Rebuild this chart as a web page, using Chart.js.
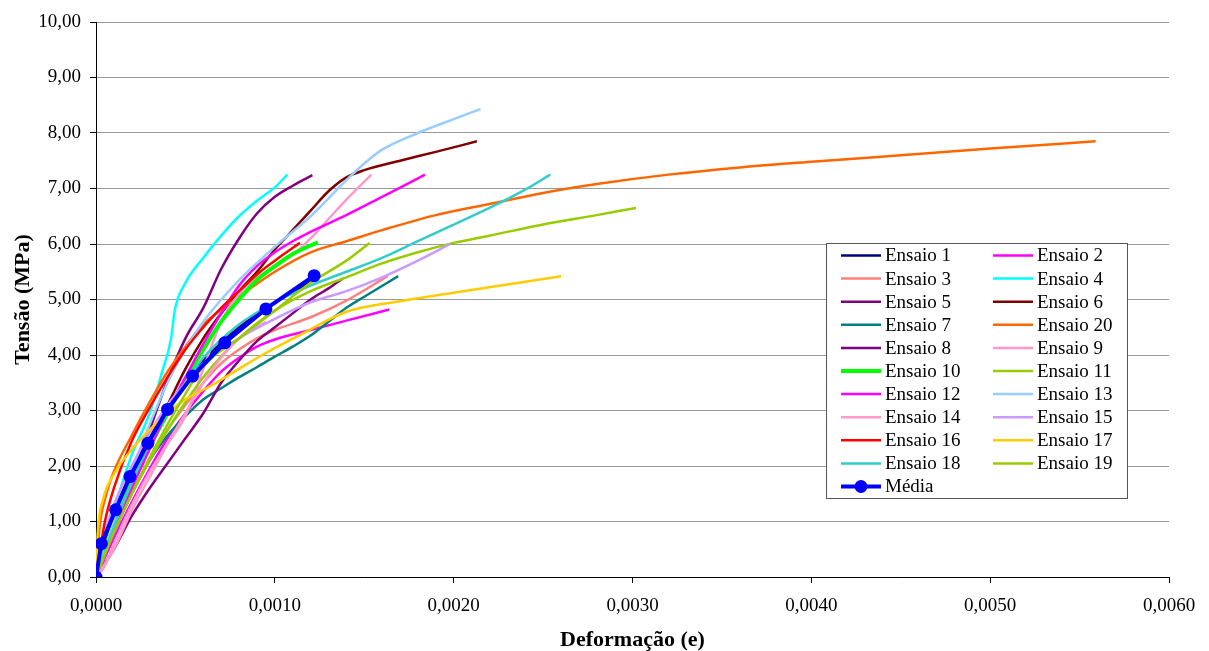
<!DOCTYPE html>
<html>
<head>
<meta charset="utf-8">
<script src="https://cdn.jsdelivr.net/npm/chart.js@4.4.1/dist/chart.umd.min.js"></script>
<style>
  body { margin: 0; background: #fff; }
  canvas { display: block; }
</style>
</head>
<body>
<canvas id="grafico" width="1209" height="651"></canvas>
<script>
// pontos [deformação, tensão]
const ensaio1 = [[0,0],[0.0001,0.9],[0.0002,1.7],[0.0003,2.4],[0.0004,3.0],[0.0005,3.5],[0.0006,3.9],[0.0008,4.5],[0.001,4.95],[0.00122,5.35]];
const ensaio2 = [[0,0],[0.0001,0.7],[0.0002,1.35],[0.0003,1.95],[0.0004,2.5],[0.0005,2.95],[0.0006,3.35],[0.0007,3.7],[0.0008,3.95],[0.0009,4.15],[0.001,4.28],[0.0012,4.45],[0.0014,4.62],[0.00164,4.82]];
const ensaio3 = [[0,0],[0.0001,0.8],[0.0002,1.5],[0.0003,2.1],[0.0004,2.65],[0.0005,3.1],[0.0006,3.5],[0.0007,3.85],[0.0008,4.1],[0.0009,4.3],[0.001,4.45],[0.0012,4.68],[0.0014,4.98],[0.00163,5.42]];
const ensaio4 = [[0,0],[0.0001,1.2],[0.0002,2.2],[0.0003,2.95],[0.00037,3.7],[0.00042,4.3],[0.00044,4.8],[0.0005,5.3],[0.0006,5.75],[0.0007,6.15],[0.0008,6.5],[0.0009,6.78],[0.001,7.02],[0.00107,7.25]];
const ensaio5 = [[0,0],[0.0001,0.9],[0.0002,1.8],[0.0003,2.65],[0.0004,3.55],[0.0005,4.3],[0.0006,4.85],[0.0007,5.55],[0.0008,6.1],[0.0009,6.55],[0.001,6.85],[0.0011,7.05],[0.00121,7.24]];
const ensaio6 = [[0,0],[0.00005,0.6],[0.00012,1.3],[0.0002,1.9],[0.0003,2.5],[0.0004,3.1],[0.0005,3.75],[0.0006,4.3],[0.0007,4.75],[0.0008,5.15],[0.0009,5.5],[0.001,5.9],[0.0011,6.25],[0.0012,6.6],[0.0013,6.95],[0.0014,7.2],[0.0015,7.33],[0.0017,7.5],[0.0019,7.66],[0.00213,7.85]];
const ensaio7 = [[0,0],[0.0001,0.8],[0.0002,1.5],[0.0003,2.1],[0.0004,2.55],[0.0005,2.9],[0.0006,3.2],[0.0007,3.4],[0.0008,3.6],[0.0009,3.78],[0.001,3.97],[0.0011,4.15],[0.0012,4.35],[0.0013,4.6],[0.0014,4.85],[0.0015,5.05],[0.00169,5.42]];
const ensaio20 = [[0,0],[0.00002,0.9],[0.00005,1.4],[0.0001,1.9],[0.0002,2.55],[0.0003,3.15],[0.0004,3.7],[0.0005,4.15],[0.0006,4.55],[0.0008,5.05],[0.001,5.5],[0.0012,5.85],[0.0014,6.05],[0.0016,6.25],[0.0019,6.52],[0.0022,6.72],[0.0025,6.92],[0.0028,7.08],[0.0032,7.25],[0.0036,7.38],[0.004,7.48],[0.0045,7.6],[0.005,7.72],[0.00559,7.85]];
const ensaio8 = [[0,0],[0.0001,0.5],[0.0002,1.1],[0.0003,1.6],[0.0004,2.05],[0.0005,2.5],[0.0006,2.95],[0.0007,3.5],[0.0008,3.9],[0.0009,4.25],[0.001,4.5],[0.0011,4.75],[0.0012,5.0],[0.0013,5.2],[0.00138,5.38]];
const ensaio9 = [[0,0],[0.00005,0.2],[0.0001,0.6],[0.0002,1.3],[0.0003,1.9],[0.0004,2.4],[0.0005,2.9],[0.0006,3.75],[0.0007,4.6],[0.0008,5.1],[0.0009,5.4],[0.001,5.58],[0.0011,5.8],[0.0012,6.1],[0.0013,6.45],[0.0014,6.8],[0.00154,7.25]];
const ensaio10 = [[0,0],[0.00005,0.5],[0.0001,0.95],[0.0002,1.7],[0.0003,2.35],[0.0004,2.95],[0.0005,3.55],[0.0006,4.1],[0.0007,4.6],[0.0008,5.0],[0.0009,5.35],[0.001,5.6],[0.0011,5.82],[0.00124,6.03]];
const ensaio11 = [[0,0],[0.0001,0.8],[0.0002,1.5],[0.0003,2.1],[0.0004,2.65],[0.0005,3.15],[0.0006,3.6],[0.0008,4.3],[0.001,4.8],[0.0012,5.15],[0.0014,5.4],[0.0016,5.65],[0.0018,5.85],[0.002,6.02],[0.0022,6.15],[0.0025,6.35],[0.0028,6.52],[0.00302,6.65]];
const ensaio12 = [[0,0],[0.0001,0.8],[0.0002,1.6],[0.0003,2.3],[0.0004,3.0],[0.0005,3.6],[0.0006,4.2],[0.0007,4.75],[0.0008,5.25],[0.0009,5.6],[0.001,5.85],[0.0011,6.05],[0.0012,6.22],[0.0014,6.52],[0.0016,6.85],[0.00184,7.25]];
const ensaio13 = [[0,0],[0.0001,1.0],[0.0002,1.9],[0.0003,2.75],[0.0004,3.5],[0.0005,4.1],[0.0006,4.6],[0.0008,5.35],[0.001,5.95],[0.0012,6.5],[0.0014,7.15],[0.0015,7.45],[0.0016,7.7],[0.0018,8.0],[0.002,8.25],[0.00215,8.43]];
const ensaio14 = [[0,0],[0.0001,0.5],[0.0002,1.2],[0.0003,1.8],[0.0004,2.4],[0.0005,2.95],[0.0006,3.5],[0.0007,3.95],[0.0008,4.3],[0.00095,4.6]];
const ensaio15 = [[0,0],[0.00005,0.8],[0.0001,1.3],[0.0002,2.0],[0.0003,2.6],[0.0004,3.1],[0.0005,3.5],[0.0006,3.85],[0.0008,4.3],[0.001,4.65],[0.0012,4.95],[0.0014,5.15],[0.0016,5.4],[0.0018,5.7],[0.00198,6.0]];
const ensaio16 = [[0,0],[0.00005,1.0],[0.0001,1.6],[0.0002,2.45],[0.0003,3.05],[0.0004,3.6],[0.0005,4.1],[0.0006,4.5],[0.0007,4.85],[0.0008,5.15],[0.0009,5.45],[0.001,5.7],[0.00114,6.02]];
const ensaio17 = [[0,0],[0.00001,0.8],[0.00004,1.4],[0.0001,1.85],[0.0002,2.3],[0.0003,2.65],[0.0004,2.95],[0.0005,3.2],[0.00065,3.46],[0.0008,3.75],[0.00093,4.0],[0.00114,4.36],[0.0014,4.78],[0.0017,4.97],[0.002,5.12],[0.0023,5.27],[0.0026,5.42]];
const ensaio18 = [[0,0],[0.0001,0.9],[0.0002,1.7],[0.0003,2.4],[0.0004,3.0],[0.0005,3.5],[0.0006,3.95],[0.0008,4.55],[0.001,4.95],[0.0012,5.25],[0.0014,5.5],[0.0016,5.75],[0.0018,6.05],[0.002,6.35],[0.0022,6.65],[0.0024,6.98],[0.00254,7.25]];
const ensaio19 = [[0,0],[0.0001,0.8],[0.0002,1.5],[0.0003,2.15],[0.0004,2.75],[0.0005,3.3],[0.0006,3.8],[0.0008,4.3],[0.001,4.8],[0.0012,5.3],[0.0014,5.7],[0.00153,6.02]];

const mediaX = [0, 0.00003, 0.00011, 0.00019, 0.00029, 0.0004, 0.00054, 0.00072, 0.00095, 0.00122];
const mediaY = [0, 0.6, 1.21, 1.81, 2.41, 3.02, 3.62, 4.22, 4.83, 5.43];

// ordem da legenda (linha a linha, duas colunas)
const series = [
  ['Ensaio 1', ensaio1, '#000080'],
  ['Ensaio 2', ensaio2, '#FF00FF'],
  ['Ensaio 3', ensaio3, '#FF8080'],
  ['Ensaio 4', ensaio4, '#00FFFF'],
  ['Ensaio 5', ensaio5, '#800080'],
  ['Ensaio 6', ensaio6, '#800000'],
  ['Ensaio 7', ensaio7, '#008080'],
  ['Ensaio 20', ensaio20, '#FF6600'],
  ['Ensaio 8', ensaio8, '#800080'],
  ['Ensaio 9', ensaio9, '#FF99CC'],
  ['Ensaio 10', ensaio10, '#00FF00'],
  ['Ensaio 11', ensaio11, '#99CC00'],
  ['Ensaio 12', ensaio12, '#FF00FF'],
  ['Ensaio 13', ensaio13, '#99CCFF'],
  ['Ensaio 14', ensaio14, '#FF99CC'],
  ['Ensaio 15', ensaio15, '#CC99FF'],
  ['Ensaio 16', ensaio16, '#FF0000'],
  ['Ensaio 17', ensaio17, '#FFCC00'],
  ['Ensaio 18', ensaio18, '#33CCCC'],
  ['Ensaio 19', ensaio19, '#99CC00']
];

const fonte = 'Liberation Serif, Times New Roman, serif';

const datasets = series.map((s, i) => ({
  label: s[0],
  data: s[1].map(p => ({ x: p[0], y: p[1] })),
  borderColor: s[2],
  backgroundColor: s[2],
  borderWidth: s[0] === 'Ensaio 10' ? 4 : 2.5,
  pointRadius: 0,
  showLine: true,
  cubicInterpolationMode: 'monotone',
  order: 100 - i
}));

datasets.push({
  label: 'Média',
  data: mediaX.map((x, i) => ({ x: x, y: mediaY[i] })),
  borderColor: '#0000FF',
  backgroundColor: '#0000FF',
  borderWidth: 4,
  pointRadius: 6.5,
  pointBackgroundColor: '#0000FF',
  pointBorderWidth: 0,
  showLine: true,
  tension: 0,
  order: 0
});

// legenda em caixa, duas colunas, dentro da área do gráfico
const legendaCaixa = {
  id: 'legendaCaixa',
  afterDraw(chart) {
    const ctx = chart.ctx;
    const area = chart.chartArea;
    const x0 = area.right - 343, y0 = area.top + 221, w = 301, h = 255;
    ctx.save();
    ctx.fillStyle = '#fff';
    ctx.fillRect(x0, y0, w, h);
    ctx.strokeStyle = '#555';
    ctx.lineWidth = 1;
    ctx.strokeRect(x0 + 0.5, y0 + 0.5, w, h);
    ctx.font = '19px ' + fonte;
    ctx.textBaseline = 'middle';
    ctx.fillStyle = '#000';
    chart.data.datasets.forEach((ds, i) => {
      const col = i % 2, row = Math.floor(i / 2);
      const lx = x0 + 15 + col * 152;
      const ly = y0 + 12.5 + row * 23.1;
      ctx.strokeStyle = ds.borderColor;
      ctx.lineWidth = ds.borderWidth;
      ctx.beginPath();
      ctx.moveTo(lx, ly);
      ctx.lineTo(lx + 40, ly);
      ctx.stroke();
      if (ds.pointRadius > 0) {
        ctx.fillStyle = ds.borderColor;
        ctx.beginPath();
        ctx.arc(lx + 20, ly, ds.pointRadius, 0, Math.PI * 2);
        ctx.fill();
      }
      ctx.fillStyle = '#000';
      ctx.fillText(ds.label, lx + 44, ly + 1);
    });
    ctx.restore();
  }
};

new Chart(document.getElementById('grafico'), {
  type: 'scatter',
  data: { datasets: datasets },
  plugins: [legendaCaixa],
  options: {
    responsive: false,
    animation: false,
    layout: { padding: { top: 22, right: 40, left: 0, bottom: 0 } },
    plugins: {
      legend: { display: false },
      tooltip: { enabled: false }
    },
    scales: {
      x: {
        type: 'linear',
        min: 0,
        max: 0.006,
        ticks: {
          stepSize: 0.001,
          padding: 12,
          color: '#000',
          font: { family: fonte, size: 19 },
          callback: v => v.toFixed(4).replace('.', ',')
        },
        grid: { drawOnChartArea: false, tickColor: '#000', tickLength: 6 },
        border: { color: '#000', width: 1 },
        title: {
          display: true,
          text: 'Deformação (e)',
          color: '#000',
          font: { family: fonte, size: 22, weight: 'bold' },
          padding: { top: 0, bottom: -3 }
        },
        afterFit: s => { s.height = 74; }
      },
      y: {
        min: 0,
        max: 10,
        ticks: {
          stepSize: 1,
          padding: 9,
          color: '#000',
          font: { family: fonte, size: 19 },
          callback: v => v.toFixed(2).replace('.', ',')
        },
        grid: { color: '#999', tickColor: '#000', tickLength: 6 },
        border: { color: '#000', width: 1 },
        title: {
          display: true,
          text: 'Tensão (MPa)',
          color: '#000',
          font: { family: fonte, size: 22, weight: 'bold' },
          padding: { top: 10, bottom: 0 }
        },
        afterFit: s => { s.width = 96; }
      }
    }
  }
});
</script>
</body>
</html>
